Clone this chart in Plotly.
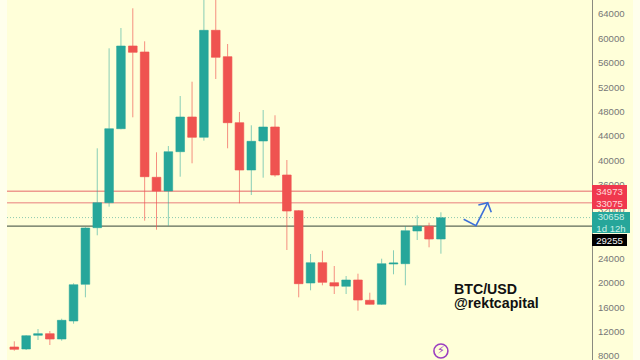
import plotly.graph_objects as go

candle_x = list(range(37))
opens = [9473,9146,11389,11651,10783,13730,19737,29003,33095,45209,58747,57765,37253,35010,41444,47124,43801,61317,56995,46191,38448,43196,45487,37630,31786,19950,23273,19999,19410,20441,17118,16463,23060,23110,28462,29232,27153]
highs = [10406,11438,12420,12093,14106,19901,29068,42000,58370,61694,64918,59516,41346,42377,50562,52903,67096,67000,59074,47943,45766,48270,47403,40085,31900,24697,25238,22733,21096,21473,18362,23928,25303,29281,31033,29821,31524]
lows = [8868,8982,10619,9801,10505,13288,17609,27759,32440,45111,47075,30149,28675,29330,37351,39545,43245,53345,42000,32997,34356,37188,37351,25352,17609,18755,19574,18149,18149,15416,16430,16349,21374,19574,26989,25794,24747]
closes = [9097,11323,11651,10783,13844,19672,28954,33095,45209,58747,57716,37351,35010,41444,47124,43801,61317,56897,46191,38448,43146,45487,37630,31737,19836,23273,20065,19459,20441,17167,16463,23110,23224,28512,29232,27153,30640]

level_upper = 34973
level_lower = 33075
level_price = 30658
level_base = 29255

tick_values = [8000,12000,16000,20000,24000,32000,36000,40000,44000,48000,52000,56000,60000,64000]

arrow_x = [37.92,38.96,39.95,None,39.16,39.95,40.25]
arrow_y = [30378,29330,33095,None,32719,33095,31524]

icon_x = [36]
icon_y = [8818]

BG = "#FFFFD9"
STRIP = "#FFFFEC"
GREEN = "#26A69A"
RED = "#EF5350"
W, H = 640, 360
L, R = 7, 48
PW = W - L - R

fig = go.Figure()
fig.add_trace(go.Candlestick(
    x=candle_x, open=opens, high=highs, low=lows, close=closes,
    increasing=dict(fillcolor=GREEN, line=dict(color="rgba(38,166,154,0.55)", width=1)),
    decreasing=dict(fillcolor=RED, line=dict(color="rgba(239,83,80,0.65)", width=1)),
    showlegend=False, hoverinfo="skip"))
fig.add_trace(go.Scatter(x=arrow_x, y=arrow_y, mode="lines",
    line=dict(color="#3D70D8", width=1.6), showlegend=False, hoverinfo="skip"))
fig.add_trace(go.Scatter(x=icon_x, y=icon_y, mode="markers+text",
    marker=dict(symbol="circle-open", size=14, color="#9C3FC0", line=dict(width=1.6, color="#9C3FC0")),
    text=["<b>⚡</b>"], textposition="middle center",
    textfont=dict(size=11, color="#9C3FC0", family="DejaVu Sans"),
    cliponaxis=False, showlegend=False, hoverinfo="skip"))

def hl(y, color, width, dash="solid"):
    fig.add_shape(type="line", xref="paper", x0=0, x1=1, yref="y", y0=y, y1=y,
                  line=dict(color=color, width=width, dash=dash), layer="below")

hl(level_upper, "#EE9A8E", 1.4)
hl(level_lower, "#F0AA9C", 1.6)
hl(level_price, "#8CC9B0", 1, "1px,2px")
hl(level_base, "#5E6A58", 1.4)

for x0, x1 in [(-L / PW, 0), ((633 - L) / PW, (W - L) / PW)]:
    fig.add_shape(type="rect", xref="paper", yref="paper", x0=x0, x1=x1, y0=0, y1=1,
                  fillcolor=STRIP, line=dict(width=0), layer="below")

def tag(y, text, bg, fg, width, height, yshift, anchor="middle"):
    fig.add_annotation(xref="paper", yref="y", x=1, y=y, xanchor="left", yanchor=anchor,
        text=text, showarrow=False, bgcolor=bg, width=width, height=height, borderpad=0,
        borderwidth=0, yshift=yshift, align="center",
        font=dict(family="Liberation Sans, Arial", size=9.6, color=fg))

tag(level_upper, "34973", "#F0384E", "#FFD8D8", 35, 12, 0)
tag(level_lower, "33075", "#F0384E", "#FFD8D8", 35, 12, 0)
tag(level_price, "30658<br>1d 12h", GREEN, "#C8EFE6", 38, 21, 5.6, "top")
tag(level_base, "29255", "#000000", "#F4F4F4", 35, 12, -13.5)

for text, yv in [("BTC/USD", 19017), ("@rektcapital", 16627)]:
    fig.add_annotation(xref="x", yref="y", x=36.95, y=yv, xanchor="left", yanchor="middle",
        text="<b>" + text + "</b>", showarrow=False, align="left",
        font=dict(family="Liberation Sans, Arial", size=14.2, color="#111111"))

fig.update_layout(
    width=W, height=H, autosize=False,
    margin=dict(l=L, r=R, t=0, b=0, pad=0),
    paper_bgcolor=BG, plot_bgcolor=BG,
    boxgap=0.27, boxgroupgap=0,
    dragmode=False,
    xaxis=dict(visible=False, range=[-0.616, 48.75], rangeslider=dict(visible=False), fixedrange=True),
    yaxis=dict(side="right", range=[7345, 66277], tickmode="array", tickvals=tick_values,
               ticktext=[str(v) for v in tick_values], showgrid=False, zeroline=False,
               showline=True, linecolor="#8A8A80", linewidth=1, ticks="outside", ticklen=3,
               tickcolor="rgba(0,0,0,0)", fixedrange=True, ticklabeloverflow="allow",
               tickfont=dict(family="Liberation Sans, Arial", size=9.6, color="#777777")),
)
fig.write_html("out.html", config=dict(displayModeBar=False),
               post_script="document.body.style.margin='0';document.documentElement.style.overflow='hidden';")
